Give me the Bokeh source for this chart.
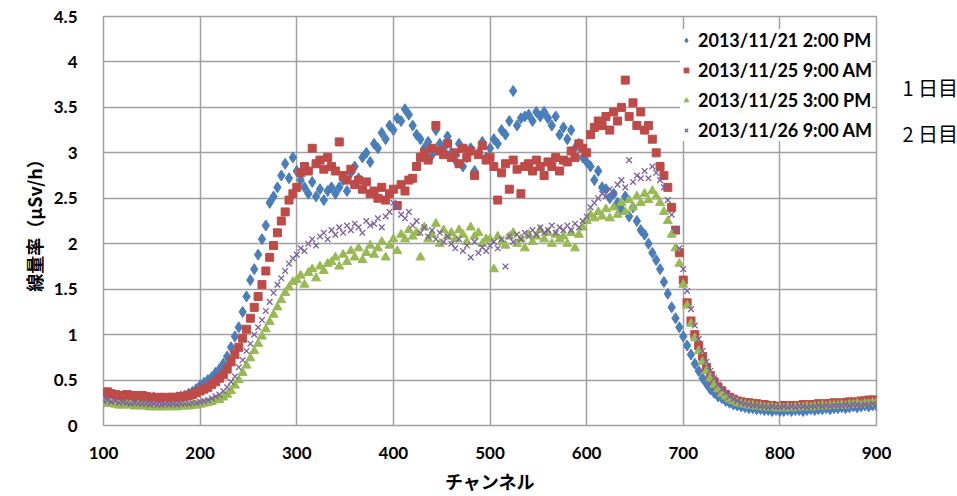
from bokeh.plotting import figure
from bokeh.models import Legend, LegendItem, LinearAxis, FixedTicker, CustomJSTickFormatter, Range1d
from bokeh.embed import file_html
from bokeh.resources import INLINE

# channels 100..900 step 4
channels = list(range(100, 901, 4))

series_names = ["2013/11/21 2:00 PM", "2013/11/25 9:00 AM", "2013/11/25 3:00 PM", "2013/11/26 9:00 AM"]

blue_vals = [
    0.34,0.33,0.35,0.32,0.33,0.31,0.32,0.33,0.30,0.31,
    0.31,0.30,0.29,0.31,0.29,0.30,0.28,0.30,0.29,0.31,
    0.32,0.33,0.35,0.37,0.40,0.44,0.47,0.50,0.53,0.58,
    0.62,0.68,0.76,0.86,0.98,1.08,1.25,1.42,1.60,1.72,
    1.88,2.05,2.20,2.45,2.52,2.62,2.75,2.88,2.72,2.95,
    2.80,2.70,2.62,2.55,2.68,2.52,2.60,2.48,2.58,2.62,
    2.55,2.62,2.70,2.58,2.78,2.85,2.72,2.95,3.00,2.90,
    3.10,3.05,3.22,3.15,3.30,3.25,3.38,3.35,3.48,3.42,
    3.30,3.20,3.15,3.05,3.12,2.98,3.25,3.10,3.05,3.18,
    3.00,2.92,3.10,2.85,2.95,3.05,2.80,3.00,3.12,2.95,
    3.05,3.15,3.10,3.25,3.20,3.35,3.68,3.30,3.38,3.40,
    3.42,3.35,3.45,3.40,3.45,3.38,3.30,3.40,3.20,3.28,
    3.15,3.25,3.05,3.10,2.95,2.90,2.85,2.70,2.80,2.62,
    2.60,2.50,2.55,2.45,2.38,2.52,2.30,2.40,2.25,2.15,
    2.10,2.00,1.90,1.82,1.72,1.58,1.45,1.30,1.18,1.08,
    0.98,0.88,0.78,0.68,0.60,0.52,0.46,0.40,0.36,0.32,
    0.30,0.27,0.25,0.23,0.22,0.21,0.20,0.19,0.19,0.18,
    0.18,0.17,0.17,0.16,0.17,0.16,0.16,0.17,0.16,0.17,
    0.17,0.16,0.17,0.18,0.17,0.18,0.18,0.19,0.18,0.19,
    0.19,0.20,0.19,0.20,0.21,0.20,0.21,0.22,0.21,0.22,
    0.22,
]

red_vals = [
    0.36,0.37,0.35,0.34,0.33,0.32,0.34,0.33,0.33,0.32,
    0.33,0.32,0.31,0.31,0.30,0.31,0.30,0.31,0.31,0.31,
    0.32,0.32,0.33,0.34,0.36,0.38,0.40,0.42,0.45,0.48,
    0.52,0.56,0.62,0.70,0.78,0.86,0.96,1.06,1.18,1.30,
    1.42,1.55,1.70,1.85,1.98,2.12,2.25,2.35,2.48,2.55,
    2.62,2.78,2.85,2.80,3.05,2.88,2.92,2.82,2.95,2.85,
    2.80,3.12,2.75,2.70,2.82,2.65,2.70,2.60,2.68,2.55,
    2.58,2.50,2.62,2.48,2.55,2.60,2.42,2.65,2.58,2.70,
    2.72,2.85,2.95,3.00,2.92,3.05,3.30,3.02,2.98,3.10,
    2.95,3.00,2.88,3.05,2.95,3.02,2.75,2.98,3.08,2.92,
    2.95,2.85,2.48,2.78,2.88,2.60,2.92,2.82,2.55,2.85,
    2.88,2.80,2.92,2.85,2.75,2.90,2.85,2.95,2.80,2.92,
    2.90,3.02,2.95,3.10,3.05,3.00,3.20,3.28,3.35,3.30,
    3.40,3.25,3.45,3.35,3.50,3.80,3.40,3.55,3.30,3.45,
    3.25,3.30,3.15,3.00,2.85,2.75,2.62,2.40,2.15,1.90,
    1.60,1.35,1.15,1.00,0.88,0.76,0.64,0.55,0.48,0.42,
    0.38,0.34,0.31,0.29,0.27,0.26,0.25,0.25,0.24,0.24,
    0.23,0.23,0.22,0.22,0.21,0.21,0.22,0.22,0.21,0.22,
    0.22,0.23,0.22,0.23,0.23,0.24,0.23,0.24,0.24,0.25,
    0.24,0.25,0.25,0.26,0.25,0.26,0.27,0.27,0.28,0.28,
    0.28,
]

green_vals = [
    0.25,0.24,0.24,0.23,0.22,0.22,0.23,0.22,0.21,0.22,
    0.21,0.21,0.20,0.21,0.20,0.20,0.21,0.20,0.21,0.20,
    0.21,0.21,0.21,0.22,0.22,0.23,0.24,0.25,0.26,0.28,
    0.28,0.31,0.34,0.38,0.44,0.50,0.58,0.66,0.74,0.82,
    0.90,0.98,1.06,1.14,1.22,1.30,1.38,1.46,1.52,1.58,
    1.60,1.65,1.55,1.68,1.72,1.62,1.75,1.70,1.78,1.80,
    1.85,1.75,1.88,1.80,1.92,1.85,1.95,1.82,1.90,1.98,
    1.88,1.95,2.02,1.85,1.98,2.05,1.92,2.10,2.05,2.15,
    2.08,2.12,1.85,2.18,2.05,2.10,2.22,2.00,2.15,2.08,
    2.12,2.05,2.15,2.10,2.02,2.18,2.08,2.12,2.00,2.05,
    2.05,1.72,2.08,2.02,1.98,2.08,2.12,2.00,2.05,1.95,
    2.10,2.02,2.08,2.15,2.05,2.12,2.00,2.10,2.05,2.08,
    2.00,2.12,1.95,2.10,2.18,2.25,2.32,2.28,2.35,2.30,
    2.38,2.28,2.40,2.32,2.45,2.35,2.48,2.40,2.52,2.45,
    2.55,2.48,2.58,2.52,2.45,2.35,2.25,2.10,1.95,1.78,
    1.55,1.32,1.12,0.96,0.82,0.70,0.60,0.52,0.45,0.40,
    0.35,0.32,0.29,0.27,0.25,0.24,0.23,0.22,0.22,0.21,
    0.21,0.20,0.20,0.20,0.19,0.20,0.19,0.20,0.19,0.20,
    0.20,0.20,0.21,0.20,0.21,0.21,0.22,0.21,0.22,0.22,
    0.22,0.23,0.22,0.23,0.23,0.24,0.23,0.24,0.24,0.25,
    0.25,
]

purple_vals = [
    0.27,0.28,0.26,0.27,0.25,0.26,0.25,0.24,0.25,0.24,
    0.24,0.24,0.23,0.24,0.23,0.23,0.24,0.23,0.24,0.23,
    0.24,0.24,0.24,0.25,0.25,0.26,0.27,0.28,0.30,0.32,
    0.34,0.38,0.42,0.48,0.54,0.64,0.72,0.82,0.90,1.00,
    1.08,1.16,1.26,1.36,1.46,1.55,1.62,1.70,1.78,1.84,
    1.88,1.95,1.92,2.00,2.05,1.98,2.08,2.12,2.05,2.15,
    2.10,2.18,2.12,2.20,2.15,2.22,2.18,2.12,2.25,2.20,
    2.22,2.28,2.18,2.30,2.35,2.45,2.40,2.32,2.28,2.35,
    2.20,2.25,2.12,2.18,2.08,2.15,2.05,2.12,2.02,2.08,
    2.00,1.95,2.05,1.92,1.98,1.85,2.02,1.90,1.96,1.92,
    1.98,2.02,1.95,2.05,1.75,2.08,2.02,2.10,2.05,2.12,
    2.08,2.15,2.10,2.18,2.12,2.15,2.20,2.12,2.18,2.15,
    2.20,2.15,2.22,2.18,2.25,2.30,2.40,2.45,2.50,2.55,
    2.52,2.60,2.55,2.65,2.70,2.62,2.92,2.68,2.75,2.72,
    2.80,2.72,2.85,2.78,2.70,2.62,2.48,2.32,2.15,1.95,
    1.72,1.48,1.28,1.10,0.95,0.82,0.70,0.60,0.52,0.45,
    0.40,0.36,0.32,0.29,0.27,0.25,0.24,0.23,0.22,0.22,
    0.21,0.21,0.20,0.21,0.20,0.20,0.21,0.20,0.21,0.20,
    0.21,0.21,0.20,0.21,0.21,0.22,0.21,0.22,0.21,0.22,
    0.22,0.22,0.23,0.22,0.23,0.23,0.22,0.23,0.23,0.24,
    0.23,
]

x_ticks = [100, 200, 300, 400, 500, 600, 700, 800, 900]
y_ticks = [0, 0.5, 1, 1.5, 2, 2.5, 3, 3.5, 4, 4.5]
side_labels = ["1 日目", "2 日目"]
side_label_levels = [3.72, 3.21]

p = figure(frame_width=773, frame_height=409, output_backend="svg", toolbar_location=None,
           x_range=Range1d(100, 900), y_range=Range1d(0, 4.5),
           min_border_left=103, min_border_right=0, min_border_top=16, min_border_bottom=60)
p.outline_line_color = "#a0a0a0"
p.outline_line_width = 1.5

for ax in (p.xaxis[0], p.yaxis[0]):
    ax.axis_line_color = None
    ax.major_tick_line_color = None
    ax.minor_tick_line_color = None
    ax.major_label_text_font = "Lato"
    ax.major_label_text_font_style = "bold"
    ax.major_label_text_font_size = "17px"
    ax.major_label_text_color = "black"
    ax.axis_label_text_font = "Noto Sans CJK JP"
    ax.axis_label_text_font_style = "bold"
    ax.axis_label_text_font_size = "18px"
    ax.axis_label_text_color = "black"

p.xaxis.ticker = FixedTicker(ticks=x_ticks)
p.yaxis.ticker = FixedTicker(ticks=y_ticks)
p.yaxis.formatter = CustomJSTickFormatter(code="return String(tick);")
p.xaxis.major_label_standoff = 15
p.yaxis.major_label_standoff = 20
p.xaxis.axis_label = "チャンネル"
p.yaxis.axis_label = "線量率（μSv/h）"
p.xaxis.axis_label_standoff = 6
p.yaxis.axis_label_standoff = 4

p.xgrid.grid_line_color = "#a0a0a0"
p.ygrid.grid_line_color = "#a0a0a0"
p.xgrid.grid_line_width = 1.5
p.ygrid.grid_line_width = 1.5

# right-hand side notes ("1 日目", "2 日目") as labels of an extra right axis
side_axis = LinearAxis(ticker=FixedTicker(ticks=side_label_levels),
                       major_label_overrides={lv: lb for lv, lb in zip(side_label_levels, side_labels)})
side_axis.axis_line_color = None
side_axis.major_tick_line_color = None
side_axis.minor_tick_line_color = None
side_axis.major_label_text_font = "Noto Sans CJK JP"
side_axis.major_label_text_font_size = "20px"
side_axis.major_label_text_color = "black"
side_axis.major_label_standoff = 20
p.add_layout(side_axis, "right")

r1 = p.scatter(channels, blue_vals, marker="diamond", size=11, fill_color="#4A7EBB", line_color="#4A7EBB")
r2 = p.scatter(channels, red_vals, marker="square", size=8, fill_color="#BE4B48", line_color="#BE4B48")
r3 = p.scatter(channels, green_vals, marker="triangle", size=9, fill_color="#98B954", line_color="#98B954")
r4 = p.scatter(channels, purple_vals, marker="x", size=8, line_color="#7D60A0", line_width=1.3)

legend = Legend(items=[LegendItem(label=series_names[0], renderers=[r1]),
                       LegendItem(label=series_names[1], renderers=[r2]),
                       LegendItem(label=series_names[2], renderers=[r3]),
                       LegendItem(label=series_names[3], renderers=[r4])],
                location=(577, 284))
legend.border_line_color = None
legend.background_fill_color = "white"
legend.background_fill_alpha = 1.0
legend.label_text_font = "Lato"
legend.label_text_font_style = "bold"
legend.label_text_font_size = "18px"
legend.label_text_color = "black"
legend.glyph_width = 12
legend.glyph_height = 20
legend.label_height = 20
legend.spacing = 8
legend.padding = 6
legend.margin = 0
legend.label_standoff = 6
p.add_layout(legend, "center")

open("out.html", "w").write(file_html(p, INLINE))
